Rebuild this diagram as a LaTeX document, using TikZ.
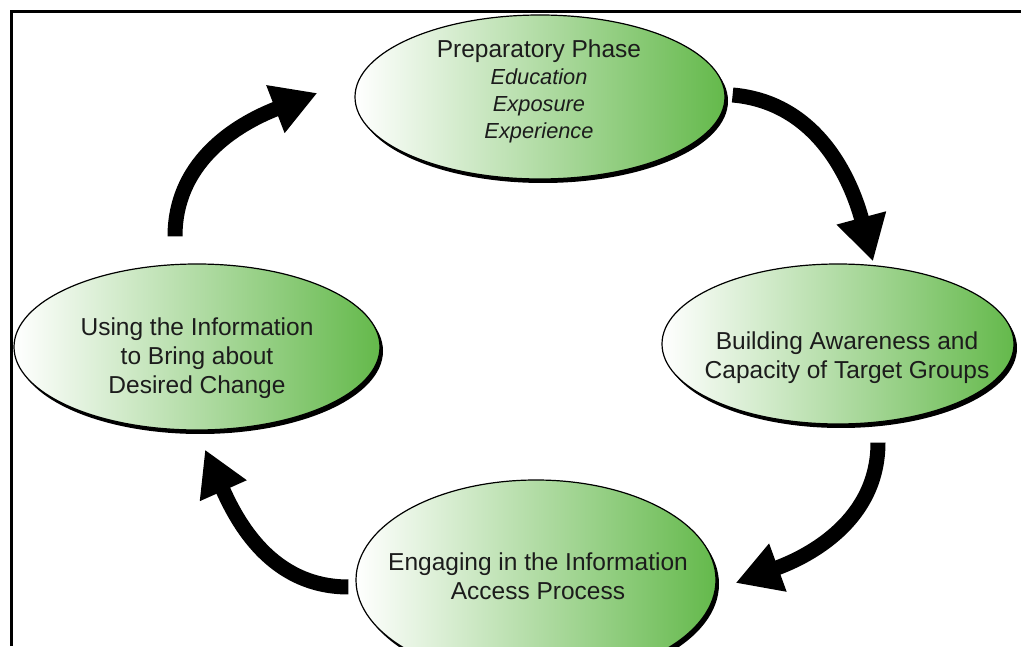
\documentclass[tikz,border=0pt]{standalone}
\usepackage{fontspec}
\setmainfont{Liberation Sans}
\usetikzlibrary{arrows.meta,shapes.geometric,shadows}
\definecolor{phasegreen}{RGB}{100,185,75}
\definecolor{phaseink}{RGB}{28,28,28}
\newcommand{\phaseitem}[1]{{\fontsize{21.8}{26.7}\selectfont\itshape #1}}

\begin{document}
\begin{tikzpicture}[x=1pt,y=1pt,
    phase/.style={ellipse,draw=black,line width=1.2pt,inner sep=0pt,
      left color=white,right color=phasegreen,
      drop shadow={shadow xshift=3pt,shadow yshift=-4pt,fill=black,opacity=1}},
    phasetxt/.style={anchor=north,inner sep=0pt,align=center,text=phaseink,
      font=\fontsize{24.5}{29}\selectfont},
    cycle/.style={line width=15pt,-{Triangle[length=45pt,width=48pt]}}]
  \useasboundingbox (0,0) rectangle (1021,646);
  \draw[line width=3pt] (11,0) |- (1021,634);
  \draw
    (540,549) node[phase,minimum width=370pt,minimum height=164pt] (prep){}
    (838,302) node[phase,minimum width=352pt,minimum height=160pt] (build){}
    (536,66) node[phase,minimum width=360pt,minimum height=200pt] (engage){}
    (197,299) node[phase,minimum width=366pt,minimum height=166pt] (using){};
  \draw
    (539,606) node[phasetxt,font=\fontsize{24.5}{26.7}\selectfont] (prep text)
      {Preparatory Phase\\ \phaseitem{Education}\\ \phaseitem{Exposure}\\ \phaseitem{Experience}}
    (847,314) node[phasetxt] (build text){Building Awareness and\\ Capacity of Target Groups}
    (538,93) node[phasetxt] (engage text){Engaging in the Information\\ Access Process}
    (197,328) node[phasetxt] (using text){Using the Information\\ to Bring about\\ Desired Change};
  \coordinate (using out) at ([shift={(-22,27)}]using.north);
  \coordinate (prep in) at ([shift={(-37,4)}]prep.west);
  \coordinate (prep out) at ([shift={(7,2)}]prep.east);
  \coordinate (build in) at ([shift={(35,2)}]build.north);
  \coordinate (build out) at ([shift={(40,-18)}]build.south);
  \coordinate (engage in) at ([shift={(19,-3)}]engage.east);
  \coordinate (engage out) at ([shift={(-7,-7)}]engage.west);
  \coordinate (using in) at ([shift={(8,-19)}]using.south);
  \begin{scope}[cycle]
    \draw (using out) to[out=90,in=201] (prep in);
    \draw (prep out) to[out=-5,in=105] (build in);
    \draw (build out) to[out=270,in=20] (engage in);
    \draw (engage out) to[out=180,in=294] (using in);
  \end{scope}
\end{tikzpicture}
\end{document}
